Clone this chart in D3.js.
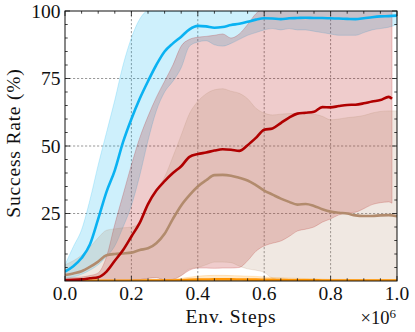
<!DOCTYPE html>
<html>
<head>
<meta charset="utf-8">
<script src="https://cdn.jsdelivr.net/npm/d3@7"></script>
<style>
  html, body { margin: 0; padding: 0; background: #fff; }
  svg { display: block; }
  text { font-family: "Liberation Serif", "Times New Roman", serif; fill: #111; }
</style>
</head>
<body>
<svg id="chart" width="415" height="332"></svg>
<script>
// ---------------- data ----------------
const steps = [0,0.025,0.05,0.075,0.1,0.125,0.15,0.175,0.2,0.225,0.25,0.275,0.3,0.325,0.35,0.375,0.4,0.425,0.45,0.475,0.5,0.525,0.55,0.575,0.6,0.625,0.65,0.675,0.7,0.725,0.75,0.775,0.8,0.825,0.85,0.875,0.9,0.925,0.95,0.975,1.0];
const redSteps = [0,0.025,0.05,0.075,0.1,0.125,0.15,0.175,0.2,0.225,0.25,0.275,0.3,0.325,0.35,0.375,0.4,0.425,0.45,0.475,0.5,0.525,0.55,0.575,0.6,0.625,0.65,0.675,0.7,0.725,0.75,0.775,0.8,0.825,0.85,0.875,0.9,0.925,0.95,0.975,0.985];

const blueMean = [3.5,5.5,8.5,13.5,23,33,41,51.5,60,67.5,74,80,85,88,90.5,93.2,94.5,94.3,93.8,94.1,94.8,95.3,96,96.8,97.3,97.2,97,97.3,97.4,97.5,97.4,97.4,97.3,97.2,97.1,97,97.3,97.7,98,98.1,98.3];
const blueLo   = [1,1.5,2.5,4,6,9,13,20,28,39,52,63,70,74,79,87,88.5,89,87.5,87,88,89.5,91,92,93,93.5,93,93.5,93,93,92.5,92,91.5,91,91,91,92,93,93.5,94,95];
const blueHi   = [6,12.7,19,30,43,55,67,80,90,97,100,100,100,100,100,100,100,100,100,100,100,100,100,100,100,100,100,100,100,100,100,100,100,100,100,100,100,100,100,100,100];

const redMean = [0.3,0.4,0.6,1,1.4,3.5,7.5,11.5,16.5,21.5,28.5,33.5,37,40,42.5,46,47,47.6,48.3,48.8,48.6,48.2,50.3,53,56,56.5,58.5,60.5,62,62.3,62.7,64.4,64.3,64.8,65.2,65.3,65.8,66.5,67,68.2,67.5];
const redLo   = [0,0,0,0,0,0,0,0,0.3,0.5,1,1.2,0.4,0.6,2,4,4.8,4.8,4.7,4.8,4.8,5,7.5,11,13,14,14.8,16.5,18.5,19.2,20,21.8,23,24.5,25.2,25.5,26.8,28.3,29,29.3,28.8];
const redHi   = [1,1.2,1.5,2,3,9,21,32,43,53,61,68,74,80,87,89.5,90.3,90.6,91,91.5,90,91.5,95,99,101,101,101,101,101,101,101,101,101,101,101,101,101,101,101,101,101];

const tanMean = [2.2,2.8,3.6,5.2,7.2,9.5,10,10.2,10.5,11.5,12.1,14,17.5,23,28,31.8,35,37.3,39.2,39.3,39,38.2,37.2,35.5,33.5,32,30.5,29.3,28.3,28.5,27.8,26.6,25.7,25.3,25,24.3,24.1,24.1,24.3,24.4,24];
const tanLo   = [0,0,0,0,0,0,0,0,0.3,0.5,1,1.2,0.5,0.6,2,4.5,5,6,7,7,6.8,5.5,4.5,4,3.2,1,0.5,0.3,0,0,0,0,0,0,0,0,0,0,0,0,0];
const tanHi   = [6,7.5,9.5,12.5,16,18.8,19.3,19.7,20,21.5,27.5,33.5,38.5,46,54,62,66.5,69.3,70.8,71.2,70.3,69.5,67.5,64,62.2,61.5,61.8,62,62.1,62,61.8,61,59.7,60,60.5,60.8,61.3,62.2,62.8,63,63];

const orangeMean = [0.1,0.1,0.1,0.1,0.1,0.1,0.1,0.1,0.1,0.1,0.15,0.15,0.2,0.2,0.3,0.4,0.5,0.55,0.6,0.6,0.6,0.55,0.5,0.5,0.45,0.4,0.35,0.3,0.3,0.25,0.25,0.2,0.2,0.2,0.2,0.2,0.2,0.2,0.2,0.2,0.2];
const orangeLo   = [0,0,0,0,0,0,0,0,0,0,0,0,0,0,0,0,0,0,0,0,0,0,0,0,0,0,0,0,0,0,0,0,0,0,0,0,0,0,0,0,0];
const orangeHi   = [0.3,0.3,0.3,0.3,0.3,0.3,0.35,0.35,0.4,0.4,0.45,0.45,0.5,0.6,1,1.4,1.8,2,2.1,2.1,2,1.9,1.8,1.7,1.5,1.3,1.2,1.1,1,0.9,0.8,0.7,0.6,0.6,0.6,0.5,0.5,0.5,0.5,0.5,0.5];

const xTicks = [0, 0.2, 0.4, 0.6, 0.8, 1.0];
const xTickLabels = ["0.0", "0.2", "0.4", "0.6", "0.8", "1.0"];
const yTicks = [25, 50, 75, 100];
const yTickLabels = ["25", "50", "75", "100"];
const xMinor = [0.05,0.1,0.15,0.25,0.3,0.35,0.45,0.5,0.55,0.65,0.7,0.75,0.85,0.9,0.95];
const yMinor = [5,10,15,20,30,35,40,45,55,60,65,70,80,85,90,95];

const series = [
  { name: "blue",   color: "#0ab2f2", xs: steps,    mean: blueMean,   lo: blueLo,   hi: blueHi },
  { name: "red",    color: "#b00000", xs: redSteps, mean: redMean,    lo: redLo,    hi: redHi },
  { name: "tan",    color: "#b28b6d", xs: steps,    mean: tanMean,    lo: tanLo,    hi: tanHi },
  { name: "orange", color: "#ff9400", xs: steps,    mean: orangeMean, lo: orangeLo, hi: orangeHi }
];

// ---------------- layout ----------------
const svg = d3.select("#chart");
const L = 65, R = 397, T = 11, B = 281;
const x = d3.scaleLinear().domain([0, 1]).range([L, R]);
const y = d3.scaleLinear().domain([0, 100]).range([B, T]);

svg.append("defs").append("clipPath").attr("id", "plotclip")
  .append("rect").attr("x", L).attr("y", T).attr("width", R - L).attr("height", B - T);

// grid
const grid = svg.append("g").attr("stroke", "#555").attr("stroke-opacity", 0.75)
  .attr("stroke-width", 0.8).attr("stroke-dasharray", "2.2,1.8");
grid.selectAll("line.gx").data(xTicks.slice(1, -1)).join("line")
  .attr("x1", d => x(d)).attr("x2", d => x(d)).attr("y1", T).attr("y2", B);
grid.selectAll("line.gy").data(yTicks.slice(0, -1)).join("line")
  .attr("x1", L).attr("x2", R).attr("y1", d => y(d)).attr("y2", d => y(d));

const plot = svg.append("g").attr("clip-path", "url(#plotclip)");

// bands
series.forEach(s => {
  const pts = s.xs.map((xv, i) => ({ x: xv, lo: s.lo[i], hi: s.hi[i] }));
  const area = d3.area().x(d => x(d.x)).y0(d => y(d.lo)).y1(d => y(d.hi)).curve(d3.curveMonotoneX);
  plot.append("path").datum(pts).attr("d", area)
    .attr("fill", s.color).attr("fill-opacity", 0.2)
    .attr("stroke", s.color).attr("stroke-opacity", 0.2).attr("stroke-width", 1);
});

// mean lines (orange, tan, red, blue order)
[3, 2, 1, 0].forEach(k => {
  const s = series[k];
  const pts = s.xs.map((xv, i) => ({ x: xv, v: s.mean[i] }));
  const line = d3.line().x(d => x(d.x)).y(d => y(d.v)).curve(d3.curveMonotoneX);
  plot.append("path").datum(pts).attr("d", line)
    .attr("fill", "none").attr("stroke", s.color).attr("stroke-width", 2.6)
    .attr("stroke-linejoin", "round").attr("stroke-linecap", "butt");
});

// frame
svg.append("rect").attr("x", L).attr("y", T).attr("width", R - L).attr("height", B - T)
  .attr("fill", "none").attr("stroke", "#111").attr("stroke-width", 1);

// ticks (inward, all four sides)
const tk = svg.append("g").attr("stroke", "#111").attr("stroke-width", 0.8);
const maj = 5, mnr = 2.7;
xTicks.forEach(v => {
  tk.append("line").attr("x1", x(v)).attr("x2", x(v)).attr("y1", B).attr("y2", B - maj);
  tk.append("line").attr("x1", x(v)).attr("x2", x(v)).attr("y1", T).attr("y2", T + maj);
});
xMinor.forEach(v => {
  tk.append("line").attr("x1", x(v)).attr("x2", x(v)).attr("y1", B).attr("y2", B - mnr);
  tk.append("line").attr("x1", x(v)).attr("x2", x(v)).attr("y1", T).attr("y2", T + mnr);
});
yTicks.forEach(v => {
  tk.append("line").attr("x1", L).attr("x2", L + maj).attr("y1", y(v)).attr("y2", y(v));
  tk.append("line").attr("x1", R).attr("x2", R - maj).attr("y1", y(v)).attr("y2", y(v));
});
yMinor.forEach(v => {
  tk.append("line").attr("x1", L).attr("x2", L + mnr).attr("y1", y(v)).attr("y2", y(v));
  tk.append("line").attr("x1", R).attr("x2", R - mnr).attr("y1", y(v)).attr("y2", y(v));
});

// tick labels
const fs = 19.5;
svg.append("g").selectAll("text").data(xTicks).join("text")
  .attr("x", d => x(d)).attr("y", B + 19)
  .attr("text-anchor", "middle").attr("font-size", fs)
  .text((d, i) => xTickLabels[i]);
svg.append("g").selectAll("text").data(yTicks).join("text")
  .attr("x", L - 4.5).attr("y", d => y(d) + 6.5)
  .attr("text-anchor", "end").attr("font-size", fs)
  .text((d, i) => yTickLabels[i]);

// axis labels
svg.append("text").attr("x", (L + R) / 2).attr("y", 323)
  .attr("text-anchor", "middle").attr("font-size", fs).attr("letter-spacing", 0.9)
  .text("Env. Steps");
svg.append("text").attr("transform", "translate(20," + 143 + ") rotate(-90)")
  .attr("text-anchor", "middle").attr("font-size", fs).attr("letter-spacing", 0.8)
  .text("Success Rate (%)");

// offset text ×10^6
const off = svg.append("text").attr("x", R - 1).attr("y", 324)
  .attr("text-anchor", "end").attr("font-size", 18.5);
off.append("tspan").text("\u00d710");
off.append("tspan").attr("dy", -6).attr("font-size", 13).text("6");
</script>
</body>
</html>
